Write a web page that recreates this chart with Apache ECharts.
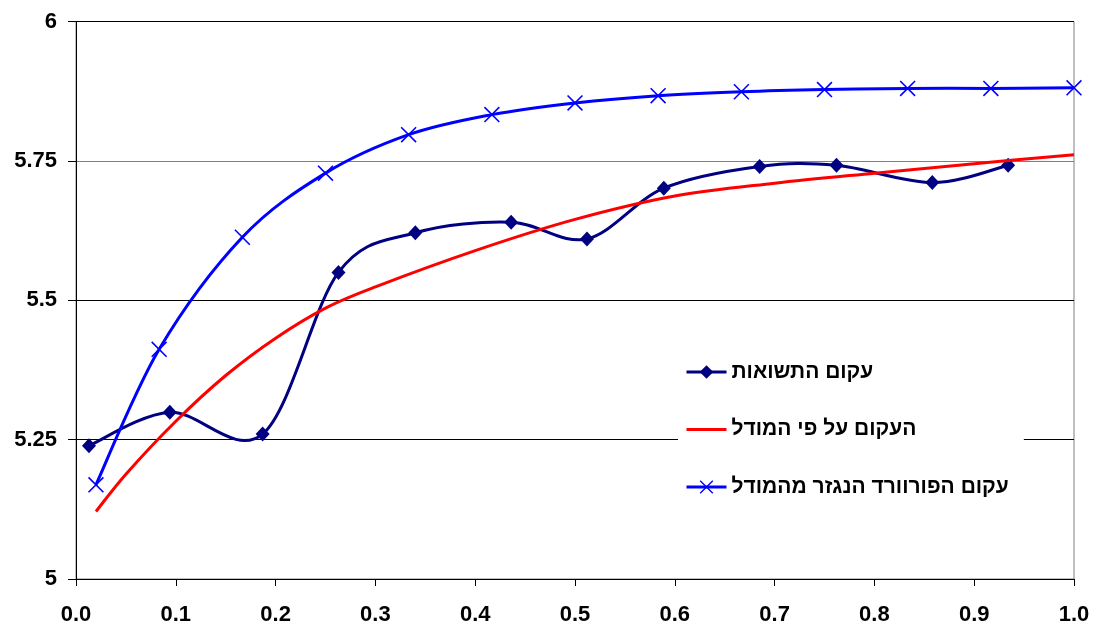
<!DOCTYPE html>
<html>
<head>
<meta charset="utf-8">
<script src="https://cdn.jsdelivr.net/npm/echarts@6/dist/echarts.min.js"></script>
<style>
    html, body { margin: 0; padding: 0; background: #fff; }
    #chart { width: 1096px; height: 627px; }
</style>
</head>
<body>
<div id="chart"></div>
<script>
// series names (legend)
const names = ['עקום התשואות', 'העקום על פי המודל', 'עקום הפורוורד הנגזר מהמודל']
const colors = ['#000080', '#FF0000', '#0000FF']

// yield curve (observed)
const yieldX = [0.013, 0.094, 0.187, 0.263, 0.340, 0.436, 0.512, 0.589, 0.685, 0.762, 0.858, 0.934]
const yieldY = [5.239, 5.299, 5.260, 5.550, 5.621, 5.640, 5.610, 5.701, 5.740, 5.742, 5.711, 5.742]

// model curve
const modelX = [0.02, 0.05, 0.1, 0.15, 0.2, 0.25, 0.3, 0.4, 0.5, 0.6, 0.7, 0.8, 0.9, 1.0]
const modelY = [5.121, 5.188, 5.283, 5.365, 5.432, 5.486, 5.524, 5.589, 5.645, 5.687, 5.710, 5.728, 5.745, 5.761]

// forward curve derived from model
const fwdX = [0.02, 0.0833, 0.1667, 0.25, 0.3333, 0.4167, 0.5, 0.5833, 0.6667, 0.75, 0.8333, 0.9167, 1.0]
const fwdY = [5.169, 5.412, 5.613, 5.728, 5.797, 5.833, 5.854, 5.867, 5.874, 5.878, 5.880, 5.880, 5.881]

const zip = (xs, ys) => xs.map((x, i) => [x, ys[i]])
const curves = [zip(yieldX, yieldY), zip(modelX, modelY), zip(fwdX, fwdY)]

// spreadsheet-style smoothing: bezier through the points (catmull-rom, 1/6 tension)
const smoothPath = (pts) => {
    let d = 'M' + pts[0][0] + ',' + pts[0][1]
    for (let i = 0; i < pts.length - 1; i++) {
        const p0 = pts[Math.max(i - 1, 0)]
        const p1 = pts[i]
        const p2 = pts[i + 1]
        const p3 = pts[Math.min(i + 2, pts.length - 1)]
        const c1 = [p1[0] + (p2[0] - p0[0]) / 6, p1[1] + (p2[1] - p0[1]) / 6]
        const c2 = [p2[0] - (p3[0] - p1[0]) / 6, p2[1] - (p3[1] - p1[1]) / 6]
        d += 'C' + c1.join(',') + ' ' + c2.join(',') + ' ' + p2.join(',')
    }
    return d
}

const curveSeries = (idx, z) => ({
    type: 'custom',
    silent: true,
    z: z,
    data: [curves[idx][0]],
    renderItem: (params, api) => ({
        type: 'path',
        shape: { pathData: smoothPath(curves[idx].map(p => api.coord(p))) },
        style: { fill: 'none', stroke: colors[idx], lineWidth: 3 }
    })
})

const crossPath = 'path://M0,0.7L0.7,0L10,9.3L9.3,10Z M9.3,0L10,0.7L0.7,10L0,9.3Z'
const labelFont = {
    color: '#000',
    fontFamily: 'Liberation Sans, Arial, sans-serif',
    fontWeight: 'bold',
    fontSize: 22
}

const chart = echarts.init(document.getElementById('chart'))
chart.setOption({
    animation: false,
    backgroundColor: '#fff',
    grid: {
        left: 76,
        right: 22,
        top: 21.5,
        bottom: 48,
        show: true,
        borderColor: '#808080',
        borderWidth: 1
    },
    legend: {
        orient: 'vertical',
        left: 678,
        top: 345,
        padding: [15, 15, 15, 7],
        backgroundColor: '#fff',
        itemWidth: 40,
        itemHeight: 17,
        itemGap: 33.5,
        textStyle: {
            color: '#000',
            fontFamily: 'Liberation Sans, Arial, sans-serif',
            fontWeight: 'bold',
            fontSize: 21,
            lineHeight: 24
        },
        data: [
            { name: names[0], lineStyle: { opacity: 1, width: 3, color: colors[0] } },
            { name: names[1], lineStyle: { opacity: 1, width: 3, color: colors[1] }, itemStyle: { color: 'rgba(0,0,0,0)' } },
            { name: names[2], lineStyle: { opacity: 1, width: 3, color: colors[2] } }
        ]
    },
    xAxis: {
        type: 'value',
        min: 0,
        max: 1,
        interval: 0.1,
        axisLine: { lineStyle: { color: '#000', width: 1 } },
        axisTick: { length: 7, lineStyle: { color: '#000' } },
        splitLine: { show: false },
        axisLabel: Object.assign({ margin: 25, formatter: v => v.toFixed(1) }, labelFont)
    },
    yAxis: {
        type: 'value',
        min: 5,
        max: 6,
        interval: 0.25,
        axisLine: { show: true, lineStyle: { color: '#000', width: 1 } },
        axisTick: { show: true, length: 8, lineStyle: { color: '#000' } },
        splitLine: {
            show: true,
            lineStyle: { color: ['#000', '#000', '#000', '#808080', '#000'], width: 1 }
        },
        axisLabel: Object.assign({ margin: 19 }, labelFont)
    },
    series: [
        {
            name: names[0],
            type: 'line',
            z: 3,
            symbol: 'diamond',
            symbolSize: [14, 15],
            lineStyle: { color: colors[0], width: 3, opacity: 0 },
            itemStyle: { color: colors[0] },
            clip: false,
            data: curves[0]
        },
        {
            name: names[1],
            type: 'line',
            z: 3,
            symbol: 'none',
            lineStyle: { color: colors[1], width: 3, opacity: 0 },
            itemStyle: { color: colors[1] },
            data: curves[1]
        },
        {
            name: names[2],
            type: 'line',
            z: 6,
            symbol: crossPath,
            symbolSize: 16,
            lineStyle: { color: colors[2], width: 3, opacity: 0 },
            itemStyle: { color: colors[2] },
            clip: false,
            data: curves[2]
        },
        curveSeries(0, 2),
        curveSeries(1, 4),
        curveSeries(2, 5)
    ]
})
</script>
</body>
</html>
